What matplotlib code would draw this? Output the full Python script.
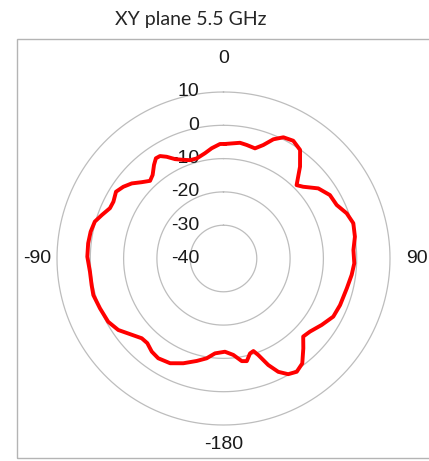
import numpy as np
import matplotlib
matplotlib.use("Agg")
import matplotlib.pyplot as plt
from matplotlib.patches import Rectangle
from matplotlib.transforms import ScaledTranslation

# Pattern data: angle (deg, clockwise from top) and gain (dB)
angles_deg = [0.75, 8.1, 11.55, 15.95, 19.3, 22.7, 26.3, 30.65, 35.2, 39.8,
              44.9, 48.0, 53.5, 59.2, 64.7, 69.85, 74.8, 80.6, 86.25, 92.1,
              97.3, 103.6, 111.8, 117.9, 124.1, 130.2, 134.4, 138.4, 143.1,
              147.1, 150.8, 154.2, 157.2, 160.2, 162.1, 164.4, 167.2, 169.9,
              174.2, 179.1, 185.1, 189.6, 194.65, 201.0, 207.0, 213.2, 217.6,
              222.0, 225.7, 231.0, 235.8, 241.25, 248.0, 254.3, 258.6, 264.35,
              270.76, 276.4, 281.4, 286.0, 289.65, 293.9, 297.3, 301.85, 305.6,
              309.3, 313.0, 316.6, 319.7, 323.4, 326.0, 328.2, 330.8, 334.0,
              337.8, 341.2, 345.0, 350.0, 353.9, 358.25, 360.75]
gain_db = [-5.6, -4.9, -5.2, -5.6, -3.9, -1.2, 0.6, 1.1, -0.1, -4.1,
           -8.9, -7.8, -4.6, -2.8, -2.4, -0.6, 0.4, 0.0, -0.9, -0.7,
           -1.2, -1.9, -2.3, -2.7, -4.4, -6.0, -6.5, -3.9, -0.6,
           0.5, -0.2, -2.2, -5.3, -9.2, -10.8, -10.4, -8.4, -8.7,
           -10.9, -12.0, -11.4, -9.6, -8.2, -6.3, -4.7, -4.2, -4.7,
           -5.8, -5.7, -3.9, -1.8, -0.5, 0.0, 0.6, 0.4, 0.3,
           0.9, 0.9, 0.7, 0.2, -1.2, -2.7, -2.8, -2.0, -3.0,
           -4.4, -6.4, -7.9, -7.1, -5.0, -3.7, -3.8, -5.0, -6.8,
           -8.0, -8.8, -8.9, -7.9, -6.7, -5.6, -5.6]

ring_values = [-30, -20, -10, 0, 10]
radial_labels = ["-40", "-30", "-20", "-10", "0", "10"]
radial_label_values = [-40, -30, -20, -10, 0, 10]
angle_labels = ["0", "90", "-180", "-90"]
angle_label_pos = [0, 90, 180, 270]
angle_label_r = [20.2, 18.0, 15.8, 16.0]
title_text = "XY plane 5.5 GHz"

W, H = 429, 461
fig = plt.figure(figsize=(W / 100, H / 100), dpi=100)

# frame box
fig.patches.append(Rectangle((16.5 / W, 3.0 / H), 1.0, (458 - 39) / H,
                             transform=fig.transFigure, fill=False,
                             edgecolor="#b4b4b4", linewidth=1.0))

cx, cy, R = 223.5, 258.5, 166.5
ax = fig.add_axes([(cx - R) / W, (H - cy - R) / H, 2 * R / W, 2 * R / H],
                  projection="polar")
ax.set_theta_zero_location("N")
ax.set_theta_direction(-1)
ax.set_rlim(-40, 10)
ax.set_rgrids(ring_values, labels=[""] * len(ring_values))
ax.set_thetagrids([], [])
ax.grid(False)
ax.spines["polar"].set_visible(False)
ax.patch.set_alpha(0)

tt = np.linspace(0, 2 * np.pi, 361)
for rv in ring_values:
    ax.plot(tt, np.full_like(tt, rv), color="#bdbdbd", lw=0.9, zorder=1,
            clip_on=False)

font_ticks = dict(family="Liberation Sans", fontsize=14, color="#1a1a1a")
off = ScaledTranslation(-24 / 100, 0, fig.dpi_scale_trans)
for lab, rv in zip(radial_labels, radial_label_values):
    ax.text(0, rv, lab, ha="right", va="center", transform=ax.transData + off,
            zorder=2, clip_on=False, **font_ticks)

for lab, a, r in zip(angle_labels, angle_label_pos, angle_label_r):
    ax.text(np.deg2rad(a), r, lab, ha="center", va="center", clip_on=False,
            **font_ticks)

th = np.deg2rad(angles_deg)
ax.plot(th, gain_db, color="#ff0000", lw=2.8, zorder=3,
        solid_joinstyle="round", solid_capstyle="round", clip_on=False)

fig.text(191 / W, 1 - 20 / H, title_text, ha="center", va="center",
         family="Lato", fontsize=14, color="#262626")

fig.savefig("out.png", dpi=100)
